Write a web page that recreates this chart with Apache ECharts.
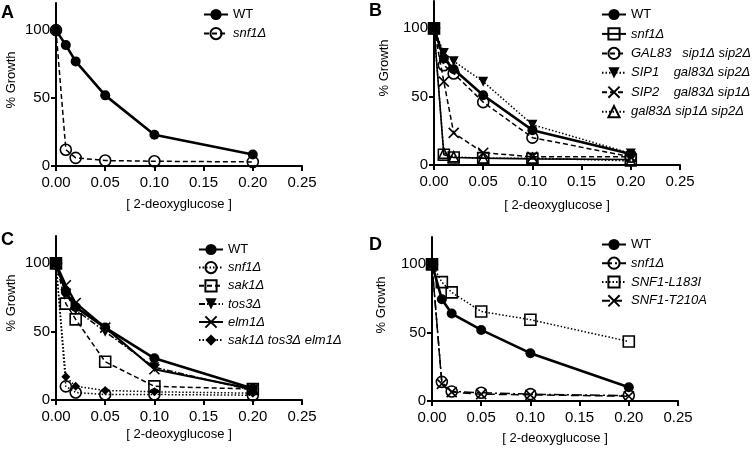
<!DOCTYPE html>
<html>
<head>
<meta charset="utf-8">
<script src="https://cdn.jsdelivr.net/npm/echarts@6/dist/echarts.min.js"></script>
<style>
html,body{margin:0;padding:0;background:#fff;}
#c{width:756px;height:449px;}
</style>
</head>
<body>
<div id="c"></div>
<script>
// ---- data ----
const doses = [0, 0.01, 0.02, 0.05, 0.1, 0.2];
const xTickValues = [0, 0.05, 0.1, 0.15, 0.2, 0.25];
const yTickValues = [0, 50, 100];
const panelLetters = ['A', 'B', 'C', 'D'];
const xTitle = '[ 2-deoxyglucose ]';
const yTitle = '% Growth';

// Panel A
const A_names = ['WT', 'snf1Δ'];
const A_WT = [100, 89, 77, 52, 23, 8.5];
const A_snf1 = [100, 12, 6, 4, 3.5, 3];

// Panel B
const B_names = ['WT', 'snf1Δ', 'GAL83   sip1Δ sip2Δ', 'SIP1    gal83Δ sip2Δ', 'SIP2    gal83Δ sip1Δ', 'gal83Δ sip1Δ sip2Δ'];
const B_WT = [100, 78, 70, 51, 25.5, 8];
const B_snf1 = [100, 7.5, 5.5, 5, 4.5, 4];
const B_GAL83 = [100, 73, 67, 46, 20, 6];
const B_SIP1 = [100, 82, 76, 61, 29.5, 8.5];
const B_SIP2 = [100, 61, 23.5, 9, 6, 6];
const B_triple = [100, 8.5, 6, 5, 5, 3];

// Panel C
const C_names = ['WT', 'snf1Δ', 'sak1Δ', 'tos3Δ', 'elm1Δ', 'sak1Δ tos3Δ elm1Δ'];
const C_WT = [100, 79, 68, 53, 30.5, 8.5];
const C_snf1 = [100, 10, 5.5, 4, 4, 3.5];
const C_sak1 = [100, 70.5, 59, 28, 10, 8];
const C_tos3 = [100, 78, 66, 50, 24, 7];
const C_elm1 = [100, 84, 71, 53, 22.5, 8];
const C_triple = [100, 17, 10, 7, 6, 5];

// Panel D
const D_names = ['WT', 'snf1Δ', 'SNF1-L183I', 'SNF1-T210A'];
const D_WT = [100, 74.5, 64, 52, 35, 10];
const D_snf1 = [100, 14, 7, 6, 5, 4];
const D_L183I = [100, 87, 79.5, 65.5, 59.5, 43.5];
const D_T210A = [100, 12.5, 6.5, 5, 4.5, 3.5];

// ---- styles ----
const FONT = 'Liberation Sans, Arial, Helvetica, sans-serif';
const CLEAR = 'rgba(0,0,0,0)';
const CROSS = 'path://M0,0L10,10M10,0L0,10';
const SYM = {
  fc: {symbol: 'circle', symbolSize: 10, itemStyle: {color: '#000', borderColor: '#000', borderWidth: 0}},
  oc: {symbol: 'circle', symbolSize: 11, itemStyle: {color: CLEAR, borderColor: '#000', borderWidth: 1.6}},
  os: {symbol: 'rect', symbolSize: 11, itemStyle: {color: CLEAR, borderColor: '#000', borderWidth: 1.6}},
  ftd: {symbol: 'triangle', symbolSize: 10, symbolRotate: 180, itemStyle: {color: '#000', borderColor: '#000', borderWidth: 0}},
  ot: {symbol: 'triangle', symbolSize: 10, itemStyle: {color: CLEAR, borderColor: '#000', borderWidth: 1.6}},
  x: {symbol: CROSS, symbolSize: 10, itemStyle: {color: '#000', borderColor: '#000', borderWidth: 1.6}},
  fd: {symbol: 'diamond', symbolSize: 9, itemStyle: {color: '#000', borderColor: '#000', borderWidth: 0}}
};
const LS = {
  thick: {type: 'solid', width: 2.6},
  solid: {type: 'solid', width: 1.6},
  solid2: {type: 'solid', width: 2.2},
  dash: {type: [5, 3], width: 1.5},
  dot: {type: [1.5, 2], width: 1.5},
  dashdot: {type: [6, 2, 1.5, 2], width: 1.5},
  longdashdot: {type: [10, 3, 2, 3], width: 1.5},
  longdash: {type: [8, 4], width: 1.5}
};

const grids = [
  {left: 56, top: 3, width: 246, height: 163},
  {left: 434, top: 1, width: 246, height: 164},
  {left: 56, top: 236, width: 246, height: 164},
  {left: 432, top: 237, width: 246, height: 164}
];
const xNameGaps = [32, 34, 28, 31];

const panels = [
  {names: A_names, vals: [A_WT, A_snf1], sym: ['fc', 'oc'], ls: ['thick', 'dash']},
  {names: B_names, vals: [B_WT, B_snf1, B_GAL83, B_SIP1, B_SIP2, B_triple],
   sym: ['fc', 'os', 'oc', 'ftd', 'x', 'ot'], ls: ['thick', 'solid', 'dash', 'dot', 'dash', 'dot']},
  {names: C_names, vals: [C_WT, C_snf1, C_sak1, C_tos3, C_elm1, C_triple],
   sym: ['fc', 'oc', 'os', 'ftd', 'x', 'fd'], ls: ['thick', 'dot', 'dash', 'dashdot', 'solid2', 'dot']},
  {names: D_names, vals: [D_WT, D_snf1, D_L183I, D_T210A],
   sym: ['fc', 'oc', 'os', 'x'], ls: ['thick', 'longdashdot', 'dot', 'longdash']}
];

const legendPos = [
  {left: 203, top: 8, itemGap: 6},
  {left: 601, top: 8, itemGap: 6.3},
  {left: 198, top: 243, itemGap: 5},
  {left: 601, top: 238, itemGap: 5.6}
];

const series = [];
const legends = [];
panels.forEach((p, gi) => {
  const legendData = [];
  p.names.forEach((nm, si) => {
    const id = panelLetters[gi] + '|' + nm;
    const s = SYM[p.sym[si]];
    series.push({
      type: 'line',
      name: id,
      xAxisIndex: gi,
      yAxisIndex: gi,
      data: doses.map((d, k) => [d, p.vals[si][k]]),
      symbol: s.symbol,
      symbolSize: s.symbolSize,
      symbolRotate: s.symbolRotate || 0,
      showSymbol: true,
      itemStyle: Object.assign({}, s.itemStyle),
      lineStyle: Object.assign({color: '#000'}, LS[p.ls[si]]),
      z: si === 0 ? 5 : 3,
      clip: false,
      animation: false,
      silent: true
    });
    legendData.push({name: id, textStyle: {fontStyle: nm === 'WT' ? 'normal' : 'italic'}});
  });
  legends.push(Object.assign({
    orient: 'vertical',
    padding: 0,
    itemWidth: 24,
    itemHeight: 14,
    selectedMode: false,
    data: legendData,
    formatter: n => n.split('|')[1],
    textStyle: {color: '#000', fontSize: 13, fontFamily: FONT}
  }, legendPos[gi]));
});

const tickStyle = {show: true, length: 5, lineStyle: {color: '#000', width: 2}};

const xAxes = grids.map((g, i) => ({
  type: 'value', gridIndex: i, min: 0, max: 0.25, interval: 0.05,
  axisLine: {show: true, lineStyle: {color: '#000', width: 2}},
  axisTick: Object.assign({customValues: xTickValues}, tickStyle),
  splitLine: {show: false},
  axisLabel: {color: '#000', fontSize: 15, fontFamily: FONT, margin: 9,
    customValues: xTickValues, formatter: v => v.toFixed(2)},
  name: xTitle, nameLocation: 'middle', nameGap: xNameGaps[i],
  nameTextStyle: {color: '#000', fontSize: 13, fontFamily: FONT}
}));

const yAxes = grids.map((g, i) => ({
  type: 'value', gridIndex: i, min: 0, max: 120,
  axisLine: {show: true, lineStyle: {color: '#000', width: 2}},
  axisTick: Object.assign({customValues: yTickValues}, tickStyle),
  splitLine: {show: false},
  axisLabel: {color: '#000', fontSize: 15, fontFamily: FONT, margin: 6, customValues: yTickValues}
}));

const letterPos = [[1, 13], [369, 11], [1, 240], [369, 245]];
const yTitlePos = [[11, 80], [384, 68], [11, 303], [381, 305]];
const graphics = [];
letterPos.forEach((p, i) => graphics.push({
  type: 'text', x: p[0], y: p[1],
  style: {text: panelLetters[i], font: 'bold 18px ' + FONT, fill: '#000', verticalAlign: 'middle', align: 'left'}
}));
yTitlePos.forEach((p, i) => graphics.push({
  type: 'text', x: p[0], y: p[1], rotation: Math.PI / 2,
  style: {text: yTitle, font: '13px ' + FONT, fill: '#000', verticalAlign: 'middle', align: 'center'}
}));

const chart = echarts.init(document.getElementById('c'), null, {renderer: 'canvas'});
chart.setOption({
  animation: false,
  backgroundColor: '#fff',
  grid: grids,
  xAxis: xAxes,
  yAxis: yAxes,
  legend: legends,
  series: series,
  graphic: graphics
});
</script>
</body>
</html>
